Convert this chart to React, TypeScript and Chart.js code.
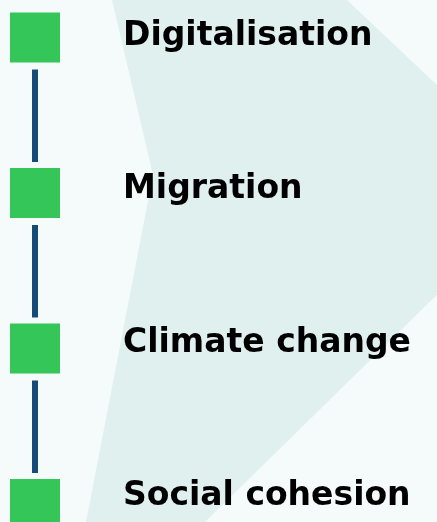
import React, { useEffect, useRef } from 'react';
import { Chart, registerables } from 'chart.js';

Chart.register(...registerables);

// Data: the four topics of the vertical timeline, top to bottom
const topics: string[] = ['Digitalisation', 'Migration', 'Climate change', 'Social cohesion'];
const stepIndex: number[] = [0, 1, 2, 3];

const GREEN = '#35c659';
const BLUE = '#144c78';
const BG = '#f5fbfa';
const SHAPE = '#e0f0ef';

export default function App() {
  const ref = useRef<HTMLCanvasElement>(null);

  useEffect(() => {
    document.body.style.margin = '0';
    if (!ref.current) return;

    const bgPlugin = {
      id: 'bgShape',
      beforeDraw(chart: any) {
        const { ctx, width: w, height: h } = chart;
        const sx = w / 437;
        const sy = h / 522;
        ctx.save();
        ctx.fillStyle = BG;
        ctx.fillRect(0, 0, w, h);
        const pts = [
          [112, 0],
          [347, 0],
          [546, 188],
          [205, 522],
          [86, 522],
          [153, 175],
        ];
        ctx.beginPath();
        pts.forEach(([x, y], i) => {
          if (i === 0) ctx.moveTo(x * sx, y * sy);
          else ctx.lineTo(x * sx, y * sy);
        });
        ctx.closePath();
        ctx.fillStyle = SHAPE;
        ctx.fill();
        ctx.restore();
      },
    };

    const connectorPlugin = {
      id: 'connectors',
      beforeDatasetsDraw(chart: any) {
        const { ctx } = chart;
        const ys = chart.scales.y;
        const xs = chart.scales.x;
        const x = xs.getPixelForValue(0);
        const half = 25;
        ctx.save();
        ctx.fillStyle = BLUE;
        for (let i = 0; i < stepIndex.length - 1; i++) {
          const top = ys.getPixelForValue(stepIndex[i]) + half + 7;
          const bottom = ys.getPixelForValue(stepIndex[i + 1]) - half - 6;
          ctx.fillRect(x - 3, top, 6, bottom - top);
        }
        ctx.restore();
      },
    };

    const labelPlugin = {
      id: 'topicLabels',
      afterDatasetsDraw(chart: any) {
        const { ctx } = chart;
        const yt = chart.scales.yText;
        const xs = chart.scales.x;
        ctx.save();
        ctx.fillStyle = '#000000';
        ctx.font = 'bold 33px "DejaVu Sans", sans-serif';
        ctx.textAlign = 'left';
        ctx.textBaseline = 'alphabetic';
        topics.forEach((t, i) => {
          ctx.fillText(t, xs.getPixelForValue(88), yt.getPixelForValue(stepIndex[i]));
        });
        ctx.restore();
      },
    };

    const chart = new Chart(ref.current, {
      type: 'scatter',
      data: {
        datasets: [
          {
            label: 'Topics',
            data: stepIndex.map((i) => ({ x: 0, y: i })),
            pointStyle: 'rect',
            pointRadius: 25 * Math.SQRT2,
            pointHoverRadius: 25 * Math.SQRT2,
            pointBackgroundColor: GREEN,
            pointBorderWidth: 0,
            pointBorderColor: GREEN,
            showLine: false,
            clip: false,
          },
        ],
      },
      options: {
        responsive: false,
        animation: false,
        events: [],
        layout: { padding: 0, autoPadding: false },
        plugins: {
          legend: { display: false },
          tooltip: { enabled: false },
        },
        scales: {
          x: { type: 'linear', display: false, min: -35, max: 402 },
          y: { type: 'linear', display: false, reverse: true, min: -0.2412, max: 3.1158 },
          yText: { type: 'linear', display: false, reverse: true, min: -0.2935, max: 3.1115 },
        },
      },
      plugins: [bgPlugin, connectorPlugin, labelPlugin],
    });

    return () => chart.destroy();
  }, []);

  return (
    <div style={{ position: 'absolute', left: 0, top: 0, width: 437, height: 522 }}>
      <canvas ref={ref} width={437} height={522} style={{ display: 'block' }} />
    </div>
  );
}
